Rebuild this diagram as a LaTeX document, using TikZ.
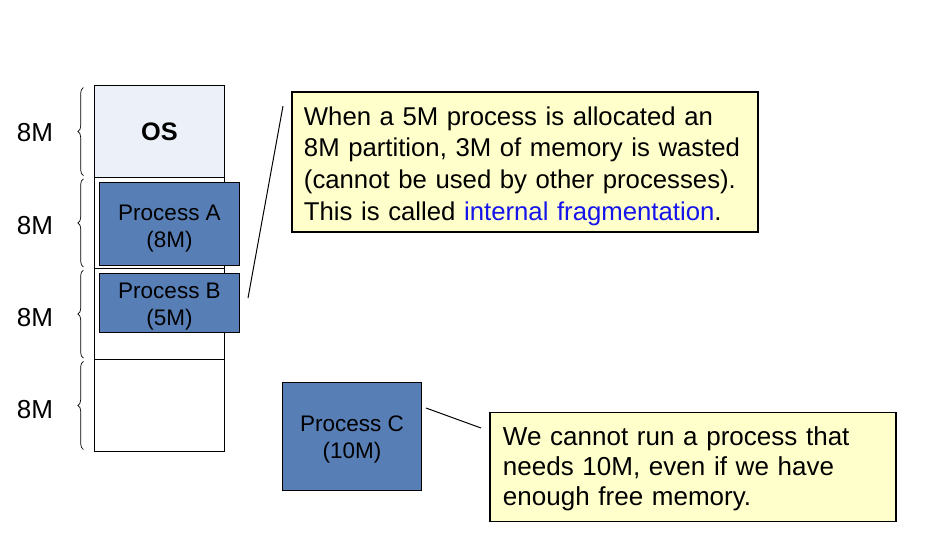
\documentclass[tikz,border=0pt]{standalone}
\usepackage{fontspec}
\setmainfont{Liberation Sans}
\usetikzlibrary{decorations.pathreplacing}
\definecolor{azulproc}{RGB}{88,126,182}
\definecolor{grisos}{RGB}{236,240,248}
\definecolor{amarillonota}{RGB}{255,255,204}
\definecolor{azulenlace}{RGB}{20,20,235}
\begin{document}
\begin{tikzpicture}[x=0.025cm, y=-0.025cm,
every node/.style={font=\fontsize{16}{19.2}\selectfont},
particion/.style={draw, line width=0.7pt, minimum width=3.225cm, minimum height=2.28cm, inner sep=0pt},
proceso/.style={draw, line width=0.7pt, fill=azulproc, text=black, align=center, inner sep=0pt},
nota/.style={draw, line width=0.9pt, fill=amarillonota, align=left, inner ysep=0pt},
tam/.style={font=\fontsize{18.5}{22}\selectfont},
llave/.style={decorate, decoration={brace, amplitude=0.14cm}, line width=0.5pt}
]
\useasboundingbox (0,0) rectangle (940,546);
% Memoria
\node[particion, fill=grisos, font=\fontsize{18}{20}\bfseries] (mem1) at (159.5,131.6) {OS};
\node[particion] (mem2) at (159.5,222.9) {};
\node[particion] (mem3) at (159.5,314.1) {};
\node[particion] (mem4) at (159.5,405.4) {};
% Procesos
\node[proceso, minimum width=3.475cm, minimum height=2.05cm] (procA) at (169.5,224) {\rule{0pt}{18pt}Process A\\(8M)};
\node[proceso, minimum width=3.475cm, minimum height=1.475cm] (procB) at (169.5,302.5) {\rule{0pt}{17pt}Process B\\(5M)};
\node[proceso, minimum width=3.45cm, minimum height=2.675cm] (procC) at (352,436.5) {\rule{0pt}{16pt}Process C\\(10M)};
% Tamanos
\node[tam] (tam1) at (35,133) {8M};
\node[tam] (tam2) at (35,226) {8M};
\node[tam] (tam3) at (35,318) {8M};
\node[tam] (tam4) at (35,410) {8M};
\draw[llave] ([xshift=-0.275cm, yshift=0.05cm]mem1.south west) -- ([xshift=-0.275cm, yshift=-0.05cm]mem1.north west);
\draw[llave] ([xshift=-0.275cm, yshift=0.05cm]mem2.south west) -- ([xshift=-0.275cm, yshift=-0.05cm]mem2.north west);
\draw[llave] ([xshift=-0.275cm, yshift=0.05cm]mem3.south west) -- ([xshift=-0.275cm, yshift=-0.05cm]mem3.north west);
\draw[llave] ([xshift=-0.275cm, yshift=0.05cm]mem4.south west) -- ([xshift=-0.275cm, yshift=-0.05cm]mem4.north west);
% Notas
\node[nota, text width=11.05cm, inner xsep=0.3cm, minimum height=3.5cm, font=\fontsize{18.3}{22.5}\selectfont] (nota1) at (525,162)
{\rule{0pt}{18.8pt}When a 5M process is allocated an\\8M partition, 3M of memory is wasted\\(cannot be used by other processes).\\This is called \textcolor{azulenlace}{internal fragmentation}.};
\node[nota, text width=9.5cm, inner xsep=0.325cm, minimum height=2.725cm, font=\fontsize{18.5}{21.3}\selectfont] (nota2) at (693,467)
{\rule{0pt}{16.5pt}We cannot run a process that\\needs 10M, even if we have\\enough free memory.};
% Lineas
\coordinate (ini1) at (283,106);
\coordinate (fin1) at (248,298);
\coordinate (ini2) at (426,408);
\coordinate (fin2) at (481,428);
\draw[line width=0.7pt] (ini1) -- (fin1);
\draw[line width=0.7pt] (ini2) -- (fin2);
\end{tikzpicture}
\end{document}
